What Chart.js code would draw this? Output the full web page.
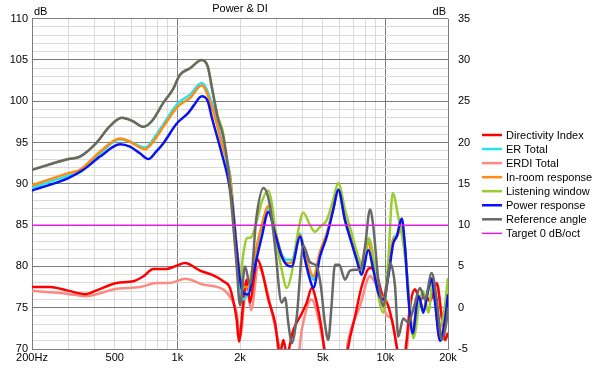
<!DOCTYPE html>
<html><head><meta charset="utf-8">
<script src="https://cdn.jsdelivr.net/npm/chart.js@4.4.1/dist/chart.umd.min.js"></script>
<style>html,body{margin:0;padding:0;background:#fff}#wrap{width:600px;height:368px}</style>
</head><body><div id="wrap"><canvas id="c" width="600" height="368"></canvas></div>
<script>
// ---- tick definitions ----
const xTickValues = [200,300,400,500,600,700,800,900,1000,2000,3000,4000,5000,6000,7000,8000,9000,10000,20000];
const xTickLabels = {200:'200Hz',500:'500',1000:'1k',2000:'2k',5000:'5k',10000:'10k',20000:'20k'};
const seriesNames = ['Directivity Index','ER Total','ERDI Total','In-room response','Listening window','Power response','Reference angle','Target 0 dB/oct'];

// ---- Reference angle (left axis, dB) ----
const refFreq = [200,299,340,409,470,540,610,686,760,855,950,1029,1150,1309,1400,1462,1560,1663,1757,1824,1928,2000,2114,2234,2400,2590,2780,2947,3173,3293,3420,3546,3748,4033,4342,4676,4900,5126,5316,5500,5724,6000,6394,6760,7144,7550,7980,8434,8750,9246,9774,10148,10524,11124,11536,12190,12886,13624,14670,15504,16696,17650,18652,19716,20000];
const refVals = [91.7,93.0,93.3,95.0,96.9,98.0,97.6,96.9,97.7,99.8,101.4,103.2,104.0,105.0,104.2,101.8,98.1,95.7,91.7,87.5,80.0,75.3,80.0,77.8,86.0,89.5,87.5,82.4,75.6,76.2,73.0,70.7,73.9,82.5,80.5,80.0,77.5,73.0,71.1,75.0,80.2,80.2,78.4,79.5,79.6,79.6,82.4,86.9,84.8,78.4,75.2,77.5,80.4,77.6,71.5,73.7,73.2,74.8,77.4,76.0,79.2,76.0,71.1,73.5,75.0];

// ---- Listening window ----
const lwFreq = [200,299,340,409,470,540,610,686,760,855,950,1029,1150,1309,1400,1462,1560,1663,1790,1824,1928,2000,2074,2154,2260,2407,2560,2737,2850,3002,3173,3355,3546,3814,4033,4342,4590,4850,5223,5618,5938,6394,6888,7410,7832,8276,8594,9084,9774,10328,10842,11536,12190,12886,13624,14670,15216,16080,16996,17966,18986,20000];
const lwVals = [91.7,93.0,93.3,95.0,96.9,98.0,97.6,96.9,97.7,99.8,101.4,103.2,104.0,105.0,104.2,101.8,98.3,96.0,89.0,87.0,81.0,78.4,81.5,83.4,83.5,85.5,88.0,89.2,87.5,82.8,79.6,77.4,79.2,84.4,86.5,85.0,84.2,84.8,85.6,88.1,90.1,86.9,84.0,81.2,79.6,83.4,82.4,77.6,74.4,80.8,88.9,86.0,82.8,77.6,71.3,76.0,77.0,74.4,78.4,72.7,73.9,78.6];

// ---- Power response ----
const prFreq = [200,299,353,425,530,592,660,725,790,855,993,1128,1200,1309,1400,1462,1633,1757,1824,1928,2000,2074,2193,2318,2545,2737,2947,3173,3355,3546,3888,4108,4342,4504,4850,5223,5618,5938,6394,6888,7278,7694,8276,8750,9246,9774,10328,10916,11334,11980,12426,12886,13532,14396,14670,15216,16080,16696,17300,18306,19348,20000];
const prVals = [89.2,90.7,91.7,93.3,94.8,94.5,93.7,93.0,93.9,94.9,97.3,98.6,99.5,100.6,100.0,98.1,93.7,90.5,88.1,82.0,78.4,76.8,76.6,79.2,83.6,86.6,84.0,81.2,80.2,80.0,83.6,80.8,78.4,77.4,81.2,83.6,86.9,89.3,85.6,82.8,80.8,79.0,82.0,79.6,76.8,76.0,78.8,82.8,83.6,85.8,82.4,76.4,71.9,76.4,76.0,74.4,77.2,78.5,75.8,71.0,73.5,76.6];

// ---- In-room response ----
const irFreq = [200,299,340,425,530,592,699,790,855,1010,1150,1309,1462,1633,1790,1824,1928,2000,2074,2193,2318,2545,2737,2947,3173,3355,3546,3888,4108,4342,4504,4850,5223,5618,5938,6394,6888,7278,7694,8276,8750,9246,9774,10328,10916,11334,11980,12426,12886,13532,14396,15216,16080,16696,17300,18306,19348,20000];
const irVals = [89.8,91.3,91.7,93.9,95.5,95.1,94.2,95.6,96.9,99.4,100.4,101.9,99.4,94.9,90.9,89.0,82.5,79.0,77.5,77.5,80.5,85.0,87.3,84.5,81.3,80.4,80.5,83.8,81.5,79.5,78.8,81.8,84.0,87.0,89.3,85.7,83.0,81.0,79.3,82.8,80.0,77.2,76.2,79.5,83.3,83.6,84.8,82.2,77.0,72.2,76.4,74.8,77.3,78.5,76.0,71.3,73.8,76.8];

// ---- ER Total ----
const erFreq = [200,299,340,425,530,592,699,790,855,1010,1150,1309,1462,1633,1790,1824,1928,2000,2074,2193,2318,2545,2737,2947,3173,3355,3546,3888,4108,4342,4504,4850,5223,5618,5938,6394,6888,7278,7694,8276,8750,9246,9774,10328,10916,11334,11980,12426,12886,13532,14396,15216,16080,16696,17300,18306,19348,20000];
const erVals = [89.5,91.0,91.4,93.7,95.4,95.1,94.4,95.9,97.2,99.8,100.8,102.2,99.8,95.2,91.2,89.3,82.0,77.5,76.0,77.0,80.3,84.8,87.0,84.3,81.5,80.8,80.8,84.0,81.6,79.4,78.4,81.6,83.9,87.0,89.3,85.7,83.1,81.1,79.5,83.2,80.2,77.3,76.0,79.3,83.4,83.8,84.9,82.2,76.8,71.8,76.5,74.7,77.3,78.6,76.0,71.2,73.7,76.7];

// ---- Directivity Index (right axis) ----
const diFreq = [200,244,294,360,409,511,614,686,766,888,993,1088,1285,1462,1663,1790,1892,1928,1978,2074,2154,2234,2318,2420,2545,2737,2947,3114,3232,3355,3609,3962,4186,4424,4676,4942,5126,5700,6300,6634,7144,7694,8434,9084,9600,10328,10916,11334,12000,12660,13132,13878,14670,15504,16386,17650,18652,19348,20000];
const diVals = [2.5,2.5,2.1,1.65,2.1,3.0,3.2,3.8,4.7,4.7,5.1,5.4,4.5,4.0,3.2,2.4,-0.2,-1.5,-4.1,0.6,3.4,0.6,3.0,5.9,4.6,1.0,-1.8,-5.6,-3.9,-5.6,-2.7,-0.7,0.6,2.4,0.6,-2.7,-5.6,-9,-9,-4.7,-1.1,2.6,4.8,4.0,1.8,0.2,-2.3,-4.7,-8,-3.9,0.2,2.2,1.0,1.4,0.8,3.0,-1.1,-3.9,-3.1];

// ---- ERDI Total (right axis) ----
const erdiFreq = [200,294,360,511,661,795,922,1088,1333,1663,1824,1928,2000,2154,2260,2451,2689,3057,3250,3750,3962,4424,4676,5030,5500,6300,6634,7550,8434,8750,9600,10148,10722,11334,12000,12800,13132,13878,14670,15504,16386,17650,18652,19348,20000];
const erdiVals = [2.05,1.7,1.4,2.3,2.5,3.0,3.0,3.5,2.8,2.2,1.0,-0.6,-3.5,2.8,-0.3,5.0,2.2,-4.2,-7,-7,-2.7,1.0,-0.5,-4.2,-8,-8,-3.9,0.2,3.8,3.4,1.0,-0.9,-1.4,-4.7,-8,-4,-0.2,2.2,1.2,1.5,1.0,2.8,-1.0,-3.5,-3.0];

// ---- Target ----
const targetFreq = [200,20000];
const targetVals = [85,85];

function pts(f, v){ return f.map((x,i)=>({x:x, y:v[i]})); }
function line(idx, data, color, axis, order, width){
  return {label:seriesNames[idx], data:data, borderColor:color, backgroundColor:color,
    borderWidth:width||2.5, pointRadius:0, pointHoverRadius:0, fill:false,
    cubicInterpolationMode:'monotone', yAxisID:axis, order:order};
}
const datasets = [
  line(0, pts(diFreq, diVals), '#ff0000', 'y2', 6),
  line(1, pts(erFreq, erVals), '#22e4f2', 'y', 5),
  line(2, pts(erdiFreq, erdiVals), '#fa8a82', 'y2', 7),
  line(3, pts(irFreq, irVals), '#ff8c12', 'y', 4),
  line(4, pts(lwFreq, lwVals), '#9acd32', 'y', 3),
  line(5, pts(prFreq, prVals), '#0a12f0', 'y', 2),
  line(6, pts(refFreq, refVals), '#686868', 'y', 1),
  line(7, pts(targetFreq, targetVals), '#dd22dd', 'y', 0, 1.5)
];

const MAJOR = '#7c7c7c', MINOR = '#dadada';
const FONT = "11px 'Liberation Sans', Arial, sans-serif";
Chart.defaults.font.family = "'Liberation Sans', Arial, sans-serif";
Chart.defaults.font.size = 11;
Chart.defaults.color = '#000';

// "dB" unit labels and the legend, drawn next to the plot area
const extras = {
  id:'extras',
  afterDraw(chart){
    const a = chart.chartArea, ctx = chart.ctx;
    ctx.save();
    ctx.font = FONT;
    ctx.fillStyle = '#000';
    ctx.textBaseline = 'alphabetic';
    ctx.textAlign = 'left';
    ctx.fillText('dB', a.left + 2, a.top - 4);
    ctx.textAlign = 'right';
    ctx.fillText('dB', a.right - 2, a.top - 4);
    // legend
    const lx = a.right + 34, rowH = 14.05, y0 = 135;
    chart.data.datasets.forEach((ds, i) => {
      const y = y0 + i * rowH;
      ctx.strokeStyle = ds.borderColor;
      ctx.lineWidth = ds.borderWidth;
      ctx.lineCap = 'butt';
      ctx.beginPath();
      ctx.moveTo(lx, y); ctx.lineTo(lx + 20, y);
      ctx.stroke();
      ctx.fillStyle = '#000';
      ctx.textAlign = 'left';
      ctx.textBaseline = 'middle';
      ctx.fillText(ds.label, lx + 24, y + 0.5);
    });
    ctx.restore();
  }
};

new Chart(document.getElementById('c'), {
  type:'line',
  data:{datasets:datasets},
  plugins:[extras],
  options:{
    responsive:false, animation:false, devicePixelRatio:1,
    layout:{padding:{left:0,right:121,top:0,bottom:0}},
    plugins:{
      title:{display:true, text:'Power & DI', color:'#000', font:{size:11, weight:'normal'}, padding:{top:2,bottom:3.5}, fullSize:false},
      legend:{display:false},
      tooltip:{enabled:false}
    },
    scales:{
      x:{type:'logarithmic', min:200, max:20000,
        afterBuildTicks:(s)=>{ s.ticks = xTickValues.map(v=>({value:v})); },
        ticks:{autoSkip:false, maxRotation:0, color:'#000', padding:2, callback:(v)=> xTickLabels[v] || ''},
        grid:{drawTicks:false, color:(c)=>{const v=c.tick&&c.tick.value; return (v===200||v===1000||v===10000||v===20000)?MAJOR:MINOR;}},
        border:{color:MAJOR},
        afterFit:(s)=>{ s.height = 19; }
      },
      y:{position:'left', min:70, max:110,
        ticks:{stepSize:1, autoSkip:false, color:'#000', padding:4, callback:(v)=> (v%5===0)? String(v) : ''},
        grid:{drawTicks:false, color:(c)=> (c.tick && c.tick.value%5===0)?MAJOR:MINOR},
        border:{color:MAJOR},
        afterFit:(s)=>{ s.width = 32; }
      },
      y2:{position:'right', min:-5, max:35,
        ticks:{stepSize:5, color:'#000', padding:10},
        grid:{display:false, drawTicks:false},
        border:{display:false},
        afterFit:(s)=>{ s.width = 31; }
      }
    }
  }
});
</script></body></html>
